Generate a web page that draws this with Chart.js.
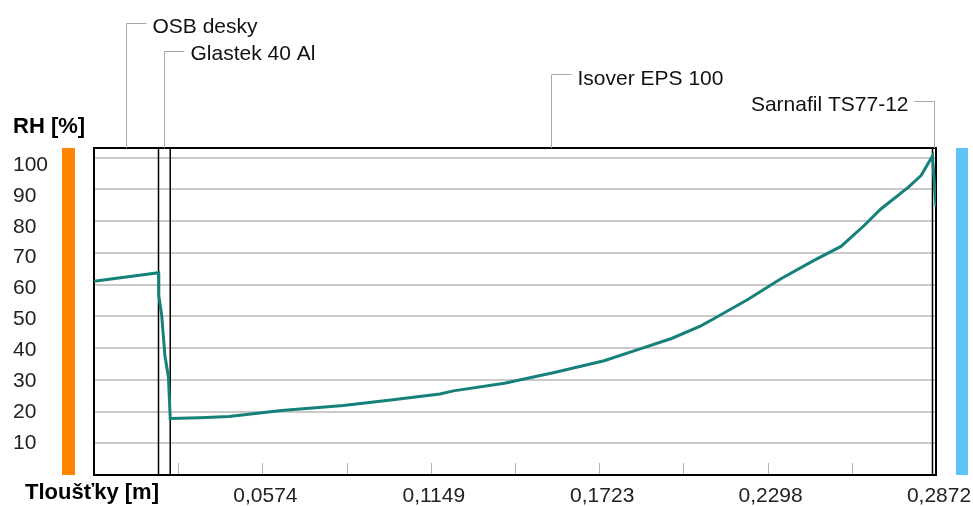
<!DOCTYPE html>
<html>
<head>
<meta charset="utf-8">
<script src="https://cdn.jsdelivr.net/npm/chart.js@4"></script>
<style>
  html, body { margin: 0; padding: 0; background: #fff; }
  #wrap { width: 973px; height: 506px; }
</style>
</head>
<body>
<div id="wrap"><canvas id="rhChart" width="973" height="506"></canvas></div>
<script>
// Tloušťka konstrukce [m] a relativní vlhkost [%]
const thickness = [0, 0.011, 0.022, 0.0221, 0.0231, 0.0242, 0.0254, 0.026, 0.036, 0.046, 0.064, 0.085,
  0.102, 0.118, 0.1226, 0.140, 0.157, 0.174, 0.1855, 0.197, 0.207, 0.2114, 0.223, 0.2343, 0.2456,
  0.2548, 0.2626, 0.2684, 0.2777, 0.2821, 0.286, 0.2872];
const rhValues = [61.0, 62.4, 63.7, 56.5, 50.2, 37.5, 30.8, 17.8, 18.0, 18.4, 20.3, 21.9,
  23.7, 25.5, 26.5, 28.9, 32.3, 36.0, 39.5, 43.0, 47.0, 49.2, 55.3, 61.8, 67.6,
  72.0, 78.5, 83.8, 90.6, 94.3, 100.5, 84.5];

const yTicks = [10, 20, 30, 40, 50, 60, 70, 80, 90, 100];
const xTicks = [0.02872, 0.05744, 0.08616, 0.11488, 0.1436, 0.17232, 0.20104, 0.22976, 0.25848, 0.2872];
const xTickLabels = ['', '0,0574', '', '0,1149', '', '0,1723', '', '0,2298', '', '0,2872'];

// hranice vrstev a jejich názvy
const layerBounds = [0, 0.022, 0.026, 0.286, 0.2872];
const layerNames = ['OSB desky', 'Glastek 40 Al', 'Isover EPS 100', 'Sarnafil TS77-12'];

const FONT = '"Liberation Sans", Arial, sans-serif';

const overlay = {
  id: 'overlay',
  beforeDatasetsDraw(chart) {
    const { ctx, chartArea: a, scales: { x } } = chart;
    ctx.save();
    // krátké značky na spodní hraně
    ctx.strokeStyle = '#b4b4b4';
    ctx.lineWidth = 1;
    xTicks.forEach(v => {
      const px = Math.round(x.getPixelForValue(v)) + 0.5;
      ctx.beginPath();
      ctx.moveTo(px, a.bottom);
      ctx.lineTo(px, a.bottom - 12);
      ctx.stroke();
    });
    // rozhraní vrstev
    ctx.strokeStyle = '#000';
    ctx.lineWidth = 1.5;
    layerBounds.slice(1, -1).forEach(v => {
      const px = x.getPixelForValue(v);
      ctx.beginPath();
      ctx.moveTo(px, a.top);
      ctx.lineTo(px, a.bottom);
      ctx.stroke();
    });
    // rám grafu
    ctx.lineWidth = 2;
    ctx.strokeRect(a.left, a.top, a.right - a.left, a.bottom - a.top);
    ctx.restore();
  },
  afterDraw(chart) {
    const { ctx, chartArea: a, scales: { x } } = chart;
    ctx.save();
    // barevné pruhy interiér / exteriér
    ctx.fillStyle = '#ff8400';
    ctx.fillRect(a.left - 32, a.top, 13, a.bottom - a.top);
    ctx.fillStyle = '#5ec4f6';
    ctx.fillRect(a.right + 20, a.top, 12, a.bottom - a.top);

    // popisy os
    ctx.fillStyle = '#000';
    ctx.textAlign = 'left';
    ctx.textBaseline = 'alphabetic';
    ctx.font = 'bold 22px ' + FONT;
    ctx.fillText('RH [%]', 13, 133);
    ctx.fillText('Tloušťky [m]', 25, 499);

    // názvy vrstev s odkazovými čarami
    const rows = [
      { lineY: 23, base: 33, side: 1 },
      { lineY: 51, base: 60, side: 1 },
      { lineY: 74, base: 85, side: 1 },
      { lineY: 101, base: 111, side: -1 }
    ];
    ctx.font = '21px ' + FONT;
    layerNames.forEach((name, i) => {
      const mid = (layerBounds[i] + layerBounds[i + 1]) / 2;
      const px = Math.round(x.getPixelForValue(mid)) + 0.5;
      const r = rows[i];
      ctx.strokeStyle = '#a8a8a8';
      ctx.lineWidth = 1;
      ctx.beginPath();
      ctx.moveTo(px, a.top);
      ctx.lineTo(px, r.lineY + 0.5);
      ctx.lineTo(px + r.side * 20, r.lineY + 0.5);
      ctx.stroke();
      ctx.fillStyle = '#111';
      ctx.textAlign = r.side > 0 ? 'left' : 'right';
      ctx.fillText(name, px + r.side * 26, r.base);
    });
    ctx.restore();
  }
};

new Chart(document.getElementById('rhChart').getContext('2d'), {
  type: 'line',
  data: {
    datasets: [{
      data: thickness.map((t, i) => ({ x: t, y: rhValues[i] })),
      borderColor: '#16807a',
      borderWidth: 3,
      pointRadius: 0,
      tension: 0,
      fill: false
    }]
  },
  options: {
    responsive: false,
    animation: false,
    layout: { padding: { left: 13, right: 37, top: 148, bottom: 0 } },
    plugins: { legend: { display: false }, tooltip: { enabled: false } },
    scales: {
      x: {
        type: 'linear',
        min: 0,
        max: 0.2872,
        afterBuildTicks: s => { s.ticks = xTicks.map(v => ({ value: v })); },
        afterFit: s => { s.height = 31; },
        grid: { display: false },
        border: { display: false },
        ticks: {
          autoSkip: false,
          maxRotation: 0,
          padding: 1,
          labelOffset: 3,
          color: '#222',
          font: { family: FONT, size: 21 },
          callback: (v, i) => xTickLabels[i]
        }
      },
      y: {
        min: 0,
        max: 103,
        afterBuildTicks: s => { s.ticks = yTicks.map(v => ({ value: v })); },
        afterFit: s => { s.width = 0; },
        grid: { color: '#cacaca', lineWidth: 2, drawTicks: false },
        border: { display: false },
        ticks: { display: false }
      },
      // popisky osy RH jsou v originále rozloženy mírně jinak než mřížka
      yLabels: {
        position: 'left',
        min: -0.36,
        max: 105.5,
        afterBuildTicks: s => { s.ticks = yTicks.map(v => ({ value: v })); },
        afterFit: s => { s.width = 81; },
        grid: { display: false, drawTicks: false },
        border: { display: false },
        ticks: {
          crossAlign: 'far',
          color: '#222',
          font: { family: FONT, size: 21 }
        }
      }
    }
  },
  plugins: [overlay]
});
</script>
</body>
</html>
